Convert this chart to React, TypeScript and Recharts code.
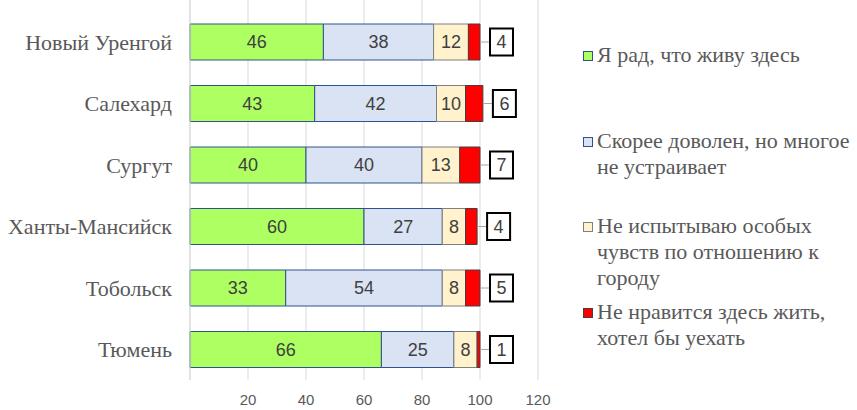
import React from 'react';
import { BarChart, Bar, XAxis, YAxis, CartesianGrid, LabelList } from 'recharts';

const cities = ['Новый Уренгой', 'Салехард', 'Сургут', 'Ханты-Мансийск', 'Тобольск', 'Тюмень'];
const glad = [46, 43, 40, 60, 33, 66];
const ratherSatisfied = [38, 42, 40, 27, 54, 25];
const indifferent = [12, 10, 13, 8, 8, 8];
const dislike = [4, 6, 7, 4, 5, 1];
const xTicks = [0, 20, 40, 60, 80, 100, 120];

const seriesNames = [
  'Я рад, что живу здесь',
  'Скорее доволен, но многое не устраивает',
  'Не испытываю особых чувств по отношению к городу',
  'Не нравится здесь жить, хотел бы уехать',
];
const legendLines = [
  ['Я рад, что живу здесь'],
  ['Скорее доволен, но многое', 'не устраивает'],
  ['Не испытываю особых', 'чувств по отношению к', 'городу'],
  ['Не нравится здесь жить,', 'хотел бы уехать'],
];
const colors = ['#ADFF62', '#DAE3F3', '#FFF2CC', '#FF0000'];
const strokes = ['#2F528F', '#2F528F', '#7F7F7F', '#404040'];

const data = cities.map((c, i) => ({
  city: c,
  glad: glad[i],
  rather: ratherSatisfied[i],
  indiff: indifferent[i],
  dislike: dislike[i],
}));

const keys = ['glad', 'rather', 'indiff', 'dislike'];

const labelFont = '"Liberation Sans", Arial, sans-serif';
const serifFont = '"Liberation Serif", "Times New Roman", serif';

const BoxLabel = (props: any) => {
  const { x, y, width, height, value } = props;
  const cy = y + height / 2;
  const ex = x + width;
  const bx = ex + 10;
  const bw = 23;
  const bh = 27;
  return (
    <g>
      <line x1={ex} y1={cy} x2={bx} y2={cy} stroke="#A6A6A6" strokeWidth={1} />
      <rect x={bx} y={cy - bh / 2} width={bw} height={bh} fill="#fff" stroke="#000" strokeWidth={2} />
      <text x={bx + bw / 2} y={cy} textAnchor="middle" dominantBaseline="central" fill="#404040" fontSize={18} fontFamily={labelFont}>
        {value}
      </text>
    </g>
  );
};

const CenterLabel = (props: any) => {
  const { x, y, width, height, value } = props;
  return (
    <text x={x + width / 2} y={y + height / 2} textAnchor="middle" dominantBaseline="central" fill="#404040" fontSize={18} fontFamily={labelFont}>
      {value}
    </text>
  );
};

const CustomLegend = () => (
  <div style={{ position: 'absolute', left: 583, top: 42, width: 280, height: 360 }}>
    {legendLines.map((lines, i) => (
      <div key={i} style={{ position: 'absolute', left: 0, top: i * 85.7, display: 'flex', alignItems: 'flex-start' }}>
        <div style={{ width: 10, height: 10, marginTop: 9, marginRight: 4, background: colors[i], border: `1px solid ${strokes[i]}`, boxSizing: 'border-box', flexShrink: 0 }} />
        <div style={{ fontFamily: serifFont, fontSize: 22, lineHeight: '26px', color: '#595959', whiteSpace: 'nowrap' }} title={seriesNames[i]}>
          {lines.map((l, j) => (
            <div key={j}>{l}</div>
          ))}
        </div>
      </div>
    ))}
  </div>
);

export default function App() {
  return (
    <div style={{ position: 'absolute', left: 0, top: 0, width: 857, height: 410, background: '#fff' }}>
      <BarChart
        width={857}
        height={410}
        data={data}
        layout="vertical"
        margin={{ top: 0, right: 319, bottom: 0, left: 0 }}
        barSize={36}
      >
        <CartesianGrid horizontal={false} stroke="#D9D9D9" />
        <XAxis
          type="number"
          domain={[0, 120]}
          ticks={xTicks}
          axisLine={false}
          tickLine={false}
          tickMargin={8}
          tickFormatter={(v: number) => (v === 0 ? '' : String(v))}
          tick={{ fill: '#595959', fontSize: 15, fontFamily: labelFont }}
          height={30}
        />
        <YAxis
          type="category"
          dataKey="city"
          width={190}
          axisLine={{ stroke: '#D9D9D9' }}
          tickLine={false}
          tickMargin={12}
          padding={{ top: 11, bottom: 0 }}
          tick={{ fill: '#595959', fontSize: 22, fontFamily: serifFont }}
        />
        {keys.map((k, i) => (
          <Bar
            key={k}
            dataKey={k}
            name={seriesNames[i]}
            stackId="a"
            fill={colors[i]}
            stroke={strokes[i]}
            strokeWidth={1}
            isAnimationActive={false}
          >
            {i < 3 ? (
              <LabelList dataKey={k} content={<CenterLabel />} />
            ) : (
              <LabelList dataKey={k} content={<BoxLabel />} />
            )}
          </Bar>
        ))}
      </BarChart>
      <CustomLegend />
    </div>
  );
}
